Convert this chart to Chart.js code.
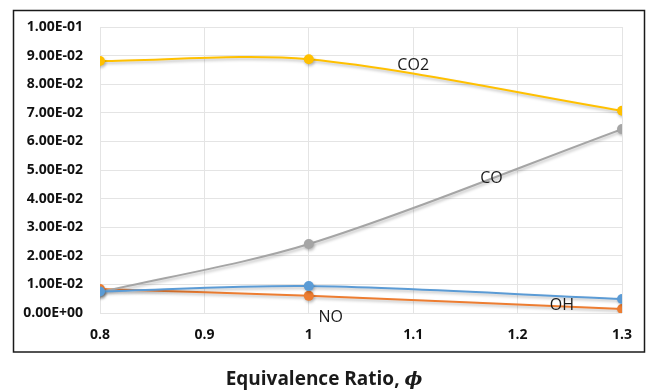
<!DOCTYPE html>
<html>
<head>
<meta charset="utf-8">
<script src="https://cdn.jsdelivr.net/npm/chart.js@4/dist/chart.umd.min.js"></script>
<style>
  html, body { margin: 0; padding: 0; background: #fff; }
  canvas { display: block; }
</style>
</head>
<body>
<canvas id="chart" width="648" height="391"></canvas>
<script>
// equivalence ratio values where the species were computed
const phi = [0.8, 1.0, 1.3];

// mole fractions
const co2 = [0.0881, 0.0887, 0.0707];
const co  = [0.0073, 0.0241, 0.0643];
const oh  = [0.0075, 0.0094, 0.0049];
const no  = [0.0084, 0.0060, 0.0014];

const xTickLabels = ['0.8', '0.9', '1', '1.1', '1.2', '1.3'];
const yTickLabels = ['0.00E+00', '1.00E-02', '2.00E-02', '3.00E-02', '4.00E-02', '5.00E-02',
                     '6.00E-02', '7.00E-02', '8.00E-02', '9.00E-02', '1.00E-01'];

// in-plot series labels, anchored in data units
const labelText = ['CO2', 'CO', 'OH', 'NO'];
const labelPhi  = [1.10, 1.175, 1.2425, 1.021];
const labelVal  = [0.0864, 0.0472, 0.0028, -0.0014];

function points(ys) {
    return phi.map((x, i) => ({ x: x, y: ys[i] }));
}

function series(label, ys, color, order) {
    return {
        label: label,
        data: points(ys),
        borderColor: color,
        backgroundColor: color,
        borderWidth: 2,
        pointRadius: 5,
        pointHoverRadius: 5,
        pointBorderWidth: 0,
        tension: 0.3,
        fill: false,
        order: order
    };
}

// soft drop shadow like the Excel style
const shadowPlugin = {
    id: 'shadow',
    beforeDatasetDraw(chart) {
        const ctx = chart.ctx;
        ctx.save();
        ctx.shadowColor = 'rgba(0,0,0,0.25)';
        ctx.shadowBlur = 3;
        ctx.shadowOffsetX = 1;
        ctx.shadowOffsetY = 2;
    },
    afterDatasetDraw(chart) {
        chart.ctx.restore();
    }
};

const decorPlugin = {
    id: 'decor',
    afterDraw(chart) {
        const ctx = chart.ctx;
        const xs = chart.scales.x, ys = chart.scales.y;
        ctx.save();
        // series labels
        ctx.fillStyle = '#1a1a1a';
        ctx.font = '16px "Open Sans", sans-serif';
        ctx.textAlign = 'center';
        ctx.textBaseline = 'middle';
        labelText.forEach((t, i) => {
            ctx.fillText(t, xs.getPixelForValue(labelPhi[i]), ys.getPixelForValue(labelVal[i]));
        });
        // frame around the plot
        ctx.strokeStyle = '#1a1a1a';
        ctx.lineWidth = 1.5;
        ctx.strokeRect(13.5, 10.5, 631, 341.5);
        // axis title below the frame
        const a = 'Equivalence Ratio, ';
        const b = '\u03D5';
        ctx.textBaseline = 'middle';
        ctx.textAlign = 'left';
        ctx.font = 'bold 19px "Open Sans", sans-serif';
        const wa = ctx.measureText(a).width;
        ctx.font = 'italic bold 19px "DejaVu Serif", serif';
        const wb = ctx.measureText(b).width;
        const x0 = 324 - (wa + wb) / 2;
        ctx.font = 'bold 19px "Open Sans", sans-serif';
        ctx.fillText(a, x0, 380);
        ctx.font = 'italic bold 19px "DejaVu Serif", serif';
        ctx.fillText(b, x0 + wa, 380);
        ctx.restore();
    }
};

const tickFont = { family: '"Open Sans", sans-serif', size: 14, weight: 'bold' };

new Chart(document.getElementById('chart'), {
    type: 'line',
    data: {
        datasets: [
            series('CO2', co2, '#FFC000', 1),
            series('OH', oh, '#5B9BD5', 2),
            series('CO', co, '#A5A5A5', 3),
            series('NO', no, '#ED7D31', 4)
        ]
    },
    options: {
        responsive: false,
        animation: false,
        events: [],
        layout: { padding: { left: 0, right: 26, top: 27, bottom: 48 } },
        plugins: {
            legend: { display: false },
            tooltip: { enabled: false }
        },
        scales: {
            x: {
                type: 'linear',
                min: 0.8,
                max: 1.3,
                ticks: {
                    stepSize: 0.1,
                    padding: 14,
                    color: '#111',
                    font: tickFont,
                    callback: (v, i) => xTickLabels[i]
                },
                grid: { color: '#E4E4E4', drawTicks: false },
                border: { display: false },
                afterFit(s) { s.height = 30; }
            },
            y: {
                min: 0,
                max: 0.1,
                ticks: {
                    stepSize: 0.01,
                    padding: 17,
                    color: '#111',
                    font: tickFont,
                    callback: (v, i) => yTickLabels[i]
                },
                grid: { color: '#E4E4E4', drawTicks: false },
                border: { display: false },
                afterFit(s) { s.width = 100; }
            }
        }
    },
    plugins: [shadowPlugin, decorPlugin]
});
</script>
</body>
</html>
